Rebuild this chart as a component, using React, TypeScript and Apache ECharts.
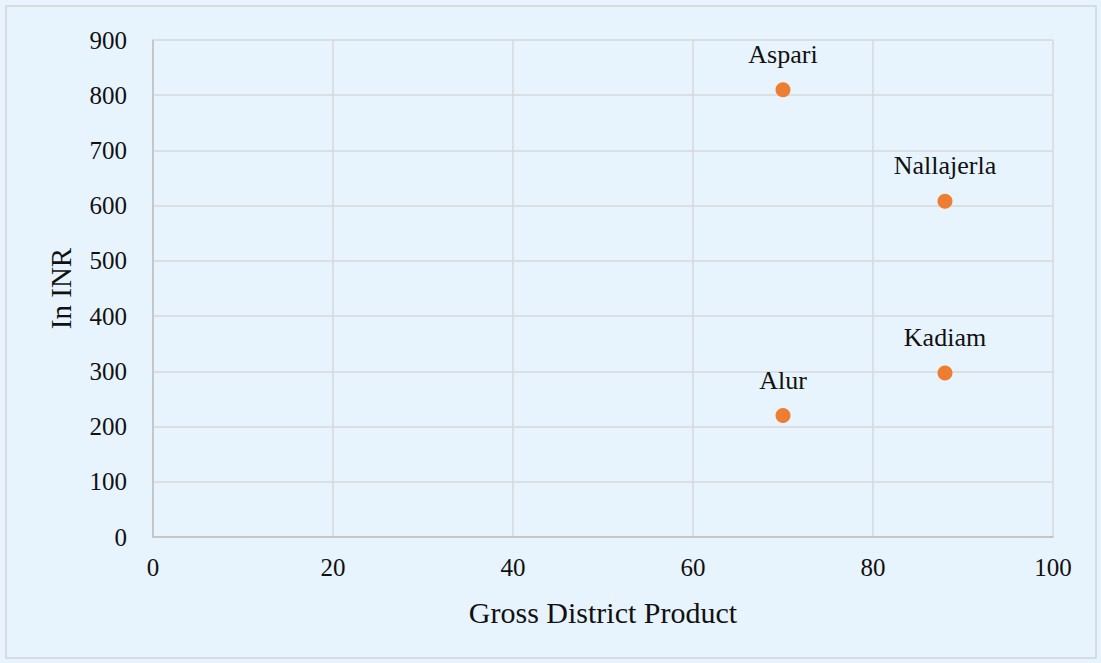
import React, { useEffect, useRef } from "react";
import * as echarts from "echarts";

const names = ["Aspari", "Nallajerla", "Kadiam", "Alur"];
const xValues = [70, 88, 88, 70];
const yValues = [810, 608, 297, 220];

export default function App() {
  const ref = useRef<HTMLDivElement>(null);
  useEffect(() => {
    const chart = echarts.init(ref.current!, null, { renderer: "svg" });
    const font = "'Liberation Serif', 'Times New Roman', serif";
    chart.setOption({
      animation: false,
      backgroundColor: "#E8F4FD",
      textStyle: { fontFamily: font },
      graphic: [
        {
          type: "rect",
          shape: { x: 6, y: 6, width: 1090, height: 652 },
          style: { fill: "none", stroke: "#D0D4D8", lineWidth: 1.5 },
          silent: true,
        },
      ],
      grid: { left: 153, right: 48, top: 40, bottom: 126 },
      xAxis: {
        type: "value",
        min: 0,
        max: 100,
        interval: 20,
        name: "Gross District Product",
        nameLocation: "middle",
        nameGap: 60,
        nameTextStyle: { fontSize: 30, color: "#111", fontFamily: font },
        axisLine: { show: true, lineStyle: { color: "#BFBFBF", width: 1.5 } },
        axisTick: { show: false },
        axisLabel: { fontSize: 25, color: "#111", margin: 18, fontFamily: font },
        splitLine: { show: true, lineStyle: { color: "#D9D9D9", width: 1.5 } },
      },
      yAxis: {
        type: "value",
        min: 0,
        max: 900,
        interval: 100,
        name: "In INR",
        nameLocation: "middle",
        nameGap: 78,
        nameTextStyle: { fontSize: 29, color: "#111", fontFamily: font },
        axisLine: { show: true, lineStyle: { color: "#BFBFBF", width: 1.5 } },
        axisTick: { show: false },
        axisLabel: { fontSize: 25, color: "#111", margin: 26, fontFamily: font },
        splitLine: { show: true, lineStyle: { color: "#D9D9D9", width: 1.5 } },
      },
      series: [
        {
          type: "scatter",
          symbol: "circle",
          symbolSize: 15,
          itemStyle: { color: "#ED7D31", opacity: 1 },
          data: xValues.map((x, i) => ({ value: [x, yValues[i]], name: names[i] })),
          label: {
            show: true,
            position: "top",
            distance: 15,
            formatter: (p: any) => p.name,
            fontSize: 26,
            color: "#111",
            fontFamily: font,
          },
        },
      ],
    });
    return () => chart.dispose();
  }, []);
  return (
    <div
      ref={ref}
      style={{ position: "fixed", left: 0, top: 0, width: 1101, height: 663 }}
    />
  );
}
